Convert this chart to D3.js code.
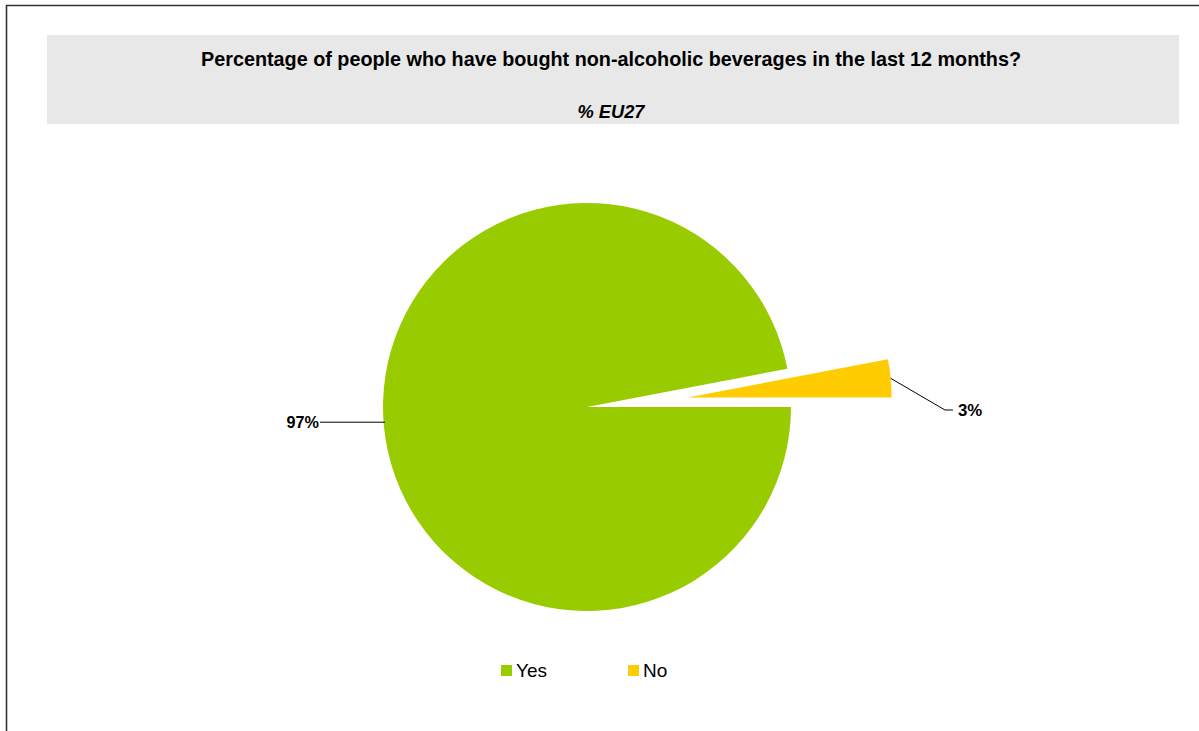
<!DOCTYPE html>
<html>
<head>
<meta charset="utf-8">
<script src="https://cdn.jsdelivr.net/npm/d3@7"></script>
<style>
  html, body { margin: 0; padding: 0; background: #fff; }
  svg { display: block; font-family: Arial, "Liberation Sans", sans-serif; }
</style>
</head>
<body>
<svg id="chart" width="1199" height="731"></svg>
<script>
// Survey answers and their shares (%)
const categories = ["Yes", "No"];
const values = [97, 3];
const valueLabels = ["97%", "3%"];
const colors = ["#99cc00", "#ffcc00"];
const titleText = "Percentage of people who have bought non-alcoholic beverages in the last 12 months?";
const subtitleText = "% EU27";

const svg = d3.select("#chart");
const W = 1199, H = 731;

// frame
svg.append("line").attr("x1", 6.5).attr("y1", 5).attr("x2", 6.5).attr("y2", H)
  .attr("stroke", "#333").attr("stroke-width", 1.6);
svg.append("line").attr("x1", 6).attr("y1", 5.5).attr("x2", W).attr("y2", 5.5)
  .attr("stroke", "#333").attr("stroke-width", 1.6);

// title band
svg.append("rect").attr("x", 47).attr("y", 35).attr("width", 1132).attr("height", 89)
  .attr("fill", "#e8e8e8");
svg.append("text").attr("x", 611).attr("y", 65.5).attr("text-anchor", "middle")
  .attr("font-size", 19.8).attr("font-weight", "bold").attr("fill", "#000")
  .text(titleText);
svg.append("text").attr("x", 611).attr("y", 118).attr("text-anchor", "middle")
  .attr("font-size", 18.3).attr("font-weight", "bold").attr("font-style", "italic").attr("fill", "#000")
  .text(subtitleText);

// pie
const cx = 587, cy = 407, r = 204, explode = 101;
const data = categories.map((c, i) => ({ cat: c, value: values[i], label: valueLabels[i], color: colors[i] }));
const pie = d3.pie().value(d => d.value).sort(null)
  .startAngle(Math.PI / 2).endAngle(Math.PI / 2 + 2 * Math.PI);
const arcs = pie(data);
const arc = d3.arc().innerRadius(0).outerRadius(r);

const g = svg.append("g").attr("transform", `translate(${cx},${cy})`);
arcs.forEach((a, i) => {
  const mid = (a.startAngle + a.endAngle) / 2;
  const off = i === 1 ? explode : 0;
  const dx = Math.sin(mid) * off, dy = -Math.cos(mid) * off;
  g.append("path").attr("d", arc(a)).attr("fill", a.data.color)
    .attr("transform", `translate(${dx},${dy})`);
});

// data labels with leader lines
(function () {
  // Yes: horizontal leader to the left
  const a = arcs[0];
  const mid = (a.startAngle + a.endAngle) / 2;
  const px = Math.sin(mid) * r, py = -Math.cos(mid) * r;
  const lx = -267;
  g.append("line").attr("x1", px + 1).attr("y1", py - 4).attr("x2", lx).attr("y2", py - 4)
    .attr("stroke", "#000").attr("stroke-width", 1);
  g.append("text").attr("x", lx - 1).attr("y", py + 2).attr("text-anchor", "end")
    .attr("font-size", 16.2).attr("font-weight", "bold").text(a.data.label);
})();
(function () {
  // No: angled leader from the exploded slice, then short horizontal
  const a = arcs[1];
  const mid = (a.startAngle + a.endAngle) / 2;
  const px = Math.sin(mid) * (r + explode), py = -Math.cos(mid) * (r + explode);
  const ex = 358, ey = 3;
  g.append("polyline")
    .attr("points", `${px},${py} ${ex},${ey} ${ex + 8},${ey}`)
    .attr("fill", "none").attr("stroke", "#000").attr("stroke-width", 1);
  g.append("text").attr("x", ex + 13).attr("y", ey + 6).attr("text-anchor", "start")
    .attr("font-size", 16.8).attr("font-weight", "bold").text(a.data.label);
})();

// legend
const legendX = [501, 628];
categories.forEach((c, i) => {
  svg.append("rect").attr("x", legendX[i]).attr("y", 665).attr("width", 11).attr("height", 11)
    .attr("fill", colors[i]);
  svg.append("text").attr("x", legendX[i] + 15).attr("y", 677)
    .attr("font-size", 19).attr("fill", "#000").text(c);
});
</script>
</body>
</html>
